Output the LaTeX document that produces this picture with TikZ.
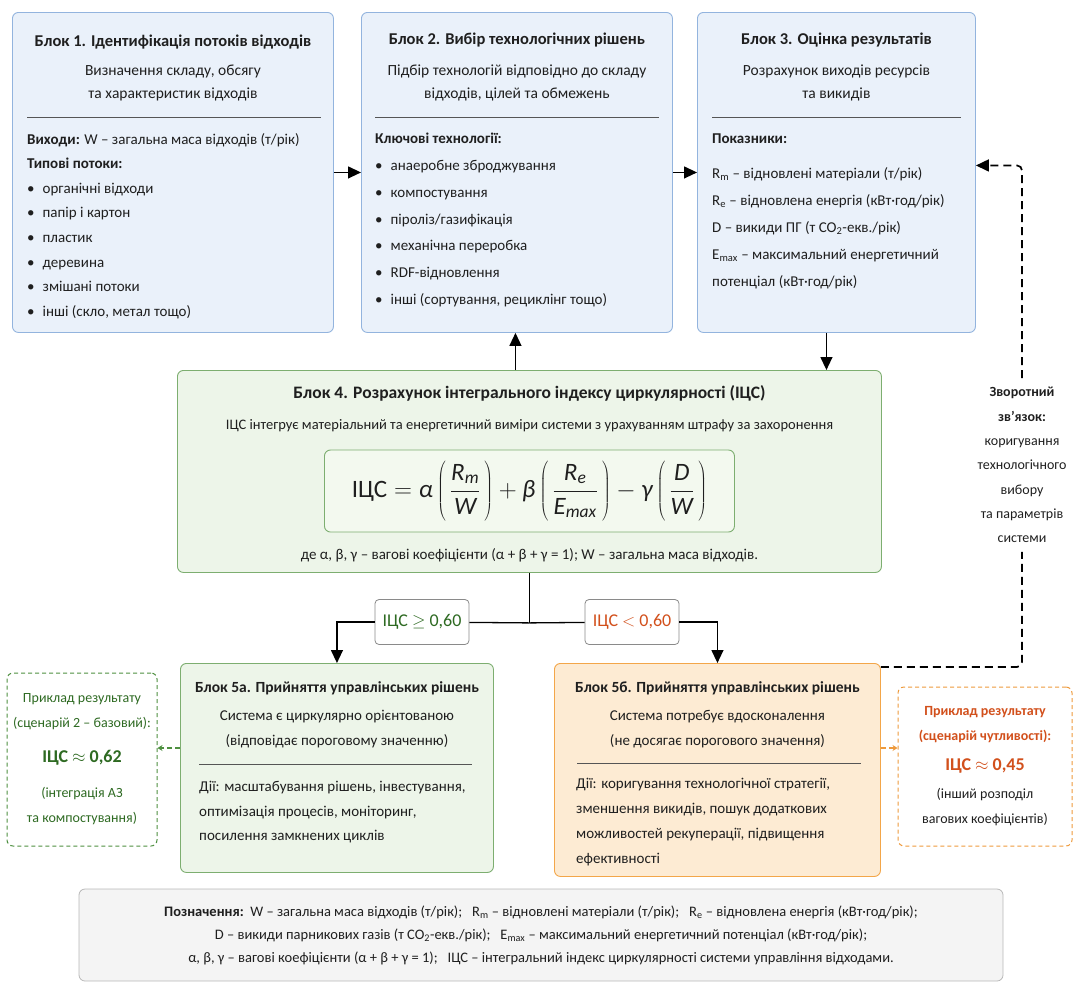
\documentclass[tikz,border=0pt]{standalone}
\usepackage{fontspec}
\setmainfont{Carlito}
\usetikzlibrary{calc,positioning,arrows.meta}
\definecolor{TxtDark}{HTML}{1F1F1F}
\definecolor{BlueFill}{HTML}{EAF1FA}
\definecolor{BlueLine}{HTML}{93B4DE}
\definecolor{GreenFill}{HTML}{EDF5E9}
\definecolor{GreenLine}{HTML}{7DAE70}
\definecolor{FormulaFill}{HTML}{F3F9EF}
\definecolor{OrangeFill}{HTML}{FDEBD3}
\definecolor{OrangeLine}{HTML}{F3A649}
\definecolor{GreenTxt}{HTML}{2E6A22}
\definecolor{GreenDash}{HTML}{4E9040}
\definecolor{OrangeTxt}{HTML}{D2501C}
\definecolor{OrangeDash}{HTML}{EE9A3C}
\definecolor{GreyFill}{HTML}{F4F4F4}
\definecolor{GreyLine}{HTML}{B8B8B8}
\definecolor{CondLine}{HTML}{8A8A8A}
\definecolor{RuleGrey}{HTML}{555555}
\newcommand{\bul}{\textbullet\hspace{8pt}}
\newcommand{\tallpar}[1]{\left(\rule[-25pt]{0pt}{62pt}\,#1\,\right)}

\begin{document}
\begin{tikzpicture}[x=1pt,y=-1pt,
  every node/.style={align=center,inner sep=0pt,text=TxtDark},
  BlkFrame/.style={draw,rounded corners=6pt,line width=0.9pt,anchor=north west},
  BlkTitle/.style={font=\bfseries\fontsize{16.5}{20}\selectfont},
  BlkSub/.style={font=\fontsize{15.5}{23}\selectfont},
  BlkBody/.style={font=\fontsize{15}{#1}\selectfont,align=left,anchor=west},
  BlkRule/.style={line width=0.7pt,draw=RuleGrey},
  Conn/.style={line width=1.3pt},
  Arr/.style={line width=1.3pt,-{Triangle[length=13pt,width=12pt]}},
  CondBox/.style={draw=CondLine,fill=white,rounded corners=4pt,line width=0.8pt,minimum width=94pt,minimum height=45pt,font=\fontsize{18}{22}\selectfont},
  ExFrame/.style={dashed,rounded corners=6pt,line width=1pt,dash pattern=on 4pt off 3pt,fill=white},
  LinkDash/.style={line width=1.2pt,dash pattern=on 5pt off 3pt,-{Stealth[length=5pt,width=6pt]}},
  Fb/.style={line width=1.7pt,dash pattern=on 8pt off 5pt,rounded corners=5pt}]
\useasboundingbox (0,0) rectangle (1073,983);

\node [BlkFrame,draw=BlueLine,fill=BlueFill,minimum width=321pt,minimum height=320pt] (Block1) at (12,12) {};
\node [BlkTitle] (Block1Title) at ($(Block1.north)+(0,30)$) {Блок 1. Ідентифікація потоків відходів};
\node [BlkSub] (Block1Sub) at ($(Block1.north)+(0,70.5)$) {Визначення складу, обсягу\\та характеристик відходів};
\draw [BlkRule] ($(Block1.north west)+(15,105)$) -- ($(Block1.north east)+(-13,105)$);
\node [BlkBody=24.6] (Block1List) at ($(Block1.north west)+(15,214)$) {\textbf{Виходи:} W – загальна маса відходів (т/рік)\\\textbf{Типові потоки:}\\\bul органічні відходи\\\bul папір і картон\\\bul пластик\\\bul деревина\\\bul змішані потоки\\\bul інші (скло, метал тощо)};

\node [BlkFrame,draw=BlueLine,fill=BlueFill,minimum width=311pt,minimum height=320pt] (Block2) at (361,12) {};
\node [BlkTitle] (Block2Title) at ($(Block2.north)+(0,28)$) {Блок 2. Вибір технологічних рішень};
\node [BlkSub] (Block2Sub) at ($(Block2.north)+(0,70.5)$) {Підбір технологій відповідно до складу\\відходів, цілей та обмежень};
\draw [BlkRule] ($(Block2.north west)+(14,105)$) -- ($(Block2.north east)+(-14,105)$);
\node [BlkBody=26.7] (Block2List) at ($(Block2.north west)+(14,208)$) {\textbf{Ключові технології:}\\\bul анаеробне зброджування\\\bul компостування\\\bul піроліз/газифікація\\\bul механічна переробка\\\bul RDF-відновлення\\\bul інші (сортування, рециклінг тощо)};

\node [BlkFrame,draw=BlueLine,fill=BlueFill,minimum width=278pt,minimum height=320pt] (Block3) at (697,12) {};
\node [BlkTitle] (Block3Title) at ($(Block3.north)+(0,28)$) {Блок 3. Оцінка результатів};
\node [BlkSub] (Block3Sub) at ($(Block3.north)+(0,70.5)$) {Розрахунок виходів ресурсів\\та викидів};
\draw [BlkRule] ($(Block3.north west)+(15,105)$) -- ($(Block3.north east)+(-15,105)$);
\node [BlkBody=27] (Block3List) at ($(Block3.north west)+(15,199.5)$) {\textbf{Показники:}\\[8pt]R\textsubscript{m} – відновлені матеріали (т/рік)\\R\textsubscript{e} – відновлена енергія (кВт·год/рік)\\D – викиди ПГ (т CO\textsubscript{2}-екв./рік)\\E\textsubscript{max} – максимальний енергетичний\\потенціал (кВт·год/рік)};

\draw [Arr] (Block1) -- (Block2);
\draw [Arr] (Block2) -- (Block3);

\node [BlkFrame,draw=GreenLine,fill=GreenFill,minimum width=704pt,minimum height=202pt] (Block4) at (177,370) {};
\node [font=\bfseries\fontsize{17.5}{21}\selectfont] (Block4Title) at ($(Block4.north)+(0,23)$) {Блок 4. Розрахунок інтегрального індексу циркулярності (ІЦС)};
\node [font=\fontsize{14.5}{18}\selectfont] (Block4Sub) at ($(Block4.north)+(0,56)$) {ІЦС інтегрує матеріальний та енергетичний виміри системи з урахуванням штрафу за захоронення};
\node [draw=GreenLine,fill=FormulaFill,rounded corners=6pt,line width=0.9pt,minimum width=410pt,minimum height=82pt,font=\fontsize{25}{30}\selectfont] (Formula) at ($(Block4.north)+(0,121)$) {$\displaystyle \mbox{ІЦС} = \mbox{\itshape α}\tallpar{\frac{\mathit{R}_{\mathit{m}}}{\mathit{W}}} + \mbox{\itshape β}\tallpar{\frac{\mathit{R}_{\mathit{e}}}{\mathit{E}_{\mathit{max}}}} - \mbox{\itshape γ}\tallpar{\frac{\mathit{D}}{\mathit{W}}}$};
\node [font=\fontsize{15}{18}\selectfont] (Block4Note) at ($(Block4.north)+(0,185)$) {де α, β, γ – вагові коефіцієнти (α + β + γ = 1); W – загальна маса відходів.};

\coordinate (B4Up) at ($(Block4.north)+(-14,0)$);
\coordinate (B3Down) at ($(Block3.south)+(-10,0)$);
\draw [Arr] (B4Up) -- (B4Up |- Block2.south);
\draw [Arr] (B3Down) -- (B3Down |- Block4.north);

\node [BlkFrame,draw=GreenLine,fill=GreenFill,minimum width=313pt,minimum height=209pt] (Block5a) at (180,663) {};
\node [font=\bfseries\fontsize{15.5}{20}\selectfont] (Block5aTitle) at ($(Block5a.north)+(0,25)$) {Блок 5а. Прийняття управлінських рішень};
\node [font=\fontsize{15}{25}\selectfont] (Block5aSub) at ($(Block5a.north)+(0,66.5)$) {Система є циркулярно орієнтованою\\(відповідає пороговому значенню)};
\draw [BlkRule] ($(Block5a.north west)+(19,101)$) -- ($(Block5a.north east)+(-22,101)$);
\node [BlkBody=24.5] (Block5aList) at ($(Block5a.north west)+(19,149.5)$) {Дії: масштабування рішень, інвестування,\\оптимізація процесів, моніторинг,\\посилення замкнених циклів};

\node [BlkFrame,draw=OrangeLine,fill=OrangeFill,minimum width=326pt,minimum height=213pt] (Block5b) at (554,663) {};
\node [font=\bfseries\fontsize{15.5}{20}\selectfont] (Block5bTitle) at ($(Block5b.north)+(0,25)$) {Блок 5б. Прийняття управлінських рішень};
\node [font=\fontsize{15}{25}\selectfont] (Block5bSub) at ($(Block5b.north)+(0,66.5)$) {Система потребує вдосконалення\\(не досягає порогового значення)};
\draw [BlkRule] ($(Block5b.north west)+(23,100)$) -- ($(Block5b.north east)+(-20,100)$);
\node [BlkBody=25] (Block5bList) at ($(Block5b.north west)+(22,159.5)$) {Дії: коригування технологічної стратегії,\\зменшення викидів, пошук додаткових\\можливостей рекуперації, підвищення\\ефективності};

\coordinate (Split) at ($(Block4.south)+(0,50)$);
\node [CondBox,text=GreenTxt] (CondYes) at (422,622) {ІЦС $\geq$ 0,60};
\node [CondBox,text=OrangeTxt] (CondNo) at (632,622) {ІЦС $<$ 0,60};
\draw [Conn] (Block4.south) -- (Split);
\draw [Conn] (Split) -- (CondYes);
\draw [Conn] (Split) -- (CondNo);
\draw [Arr] (CondYes) -| (Block5a.north);
\draw [Arr] (CondNo) -| (Block5b.north);

\node [ExFrame,draw=GreenDash,text=GreenTxt,minimum width=150pt,minimum height=173pt,font=\fontsize{14}{25}\selectfont] (ExampleA) at (82,759.5) {Приклад результату\\(сценарій 2 – базовий):\\[10pt]{\bfseries\fontsize{18}{22}\selectfont ІЦС $\approx$ 0,62}\\[10pt](інтеграція АЗ\\та компостування)};
\node [ExFrame,draw=OrangeDash,minimum width=174pt,minimum height=159pt,font=\fontsize{14}{25}\selectfont] (ExampleB) at (985,766.5) {\textcolor{OrangeTxt}{\bfseries Приклад результату}\\\textcolor{OrangeTxt}{\bfseries (сценарій чутливості):}\\[5pt]{\bfseries\fontsize{18}{22}\selectfont\color{OrangeTxt}ІЦС $\approx$ 0,45}\\[3pt](інший розподіл\\вагових коефіцієнтів)};
\coordinate (LinkA) at ($(Block5a.north west)+(0,85)$);
\coordinate (LinkB) at ($(Block5b.north east)+(0,85)$);
\draw [LinkDash,draw=GreenDash] (LinkA) -- (LinkA -| ExampleA.east);
\draw [LinkDash,draw=OrangeDash] (LinkB) -- (LinkB -| ExampleB.west);

\node [inner ysep=9pt,font=\fontsize{14}{24.3}\selectfont] (FbText) at (1022,465) {\textbf{Зворотний}\\\textbf{зв’язок:}\\коригування\\технологічного\\вибору\\та параметрів\\системи};
\coordinate (FbStart) at ($(Block5b.north east)+(0,4)$);
\draw [Fb] (FbStart) -| (FbText.south);
\draw [Fb,-{Triangle[length=13pt,width=12pt]}] (FbText.north) |- ($(Block3.east)+(0,-7)$);

\node [draw=GreyLine,fill=GreyFill,rounded corners=6pt,line width=0.8pt,minimum width=924pt,minimum height=92pt,font=\fontsize{14.5}{23}\selectfont] (Legend) at (541,935) {\textbf{Позначення:}\ \ W – загальна маса відходів (т/рік);\ \ \ R\textsubscript{m} – відновлені матеріали (т/рік);\ \ \ R\textsubscript{e} – відновлена енергія (кВт·год/рік);\\D – викиди парникових газів (т CO\textsubscript{2}-екв./рік);\ \ \ E\textsubscript{max} – максимальний енергетичний потенціал (кВт·год/рік);\\α, β, γ – вагові коефіцієнти (α + β + γ = 1);\ \ \ ІЦС – інтегральний індекс циркулярності системи управління відходами.};
\end{tikzpicture}
\end{document}
